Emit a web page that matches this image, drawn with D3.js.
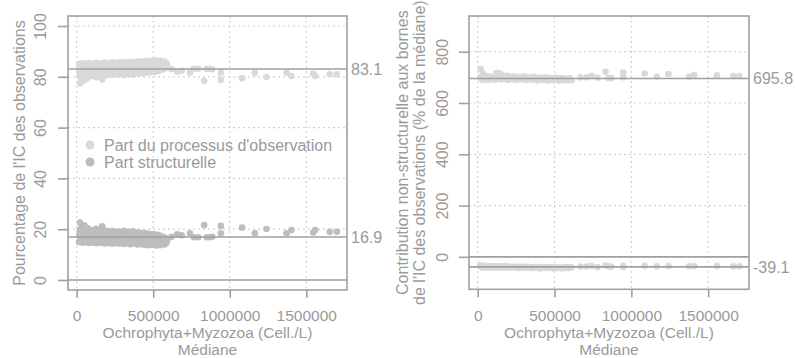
<!DOCTYPE html>
<html><head><meta charset="utf-8">
<script src="https://cdn.jsdelivr.net/npm/d3@7"></script>
<style>html,body{margin:0;padding:0;background:#fff}svg{display:block}text{font-family:"Liberation Sans",Arial,sans-serif;fill:#9a9a9a}</style>
</head><body><svg id="c" width="795" height="358"></svg>
<script>
// Médiane, thousands of Cell./L (left panel)
const medianeK = [
 15,18,20,22,25,28,30,33,35,38, 40,44,47,50,53,56,60,63,66,70,
 73,77,80,84,88,92,95,99,103,107, 111,115,119,123,127,131,135,139,143,147,
 151,155,159,163,167,171,175,179,183,187, 191,195,199,203,207,211,215,219,223,227,
 231,235,239,243,247,251,255,259,263,267, 271,275,279,283,287,291,295,299,303,307,
 311,315,319,323,327,331,335,339,343,347, 351,355,359,363,367,371,375,379,383,387,
 391,395,399,403,407,411,415,419,423,427, 431,435,439,443,447,451,455,459,463,467,
 471,475,479,483,487,491,495,499,503,507, 511,515,519,523,527,531,535,540,545,550,
 555,560,565,570,575,580,587,593,
 620,657,686,740,765,794,833,850,872,885, 942,942,1081,1164,1240,1371,1403,1545,1558,1653,1700];
const partObservation = [
 85.0,82.1,80.3,77.4,84.0,81.5,83.2,79.0,85.3,82.6, 80.8,84.4,81.9,78.5,83.6,85.1,80.9,82.8,84.6,81.3,
 79.6,83.9,85.4,82.2,80.7,84.2,81.6,83.1,85.2,80.4, 82.7,84.8,81.1,83.4,79.8,85.5,82.0,80.6,84.1,81.7,
 83.3,85.3,80.9,82.5,78.9,84.6,81.4,83.7,85.6,80.5, 82.9,84.3,81.2,83.0,85.4,80.8,82.4,84.7,81.6,83.5,
 85.7,80.7,82.2,84.0,81.0,83.6,85.5,81.3,82.8,84.9, 80.9,83.2,85.6,81.8,82.5,84.4,81.1,83.9,85.8,80.6,
 82.7,84.6,81.5,83.3,85.6,81.0,82.4,84.2,81.7,83.8, 85.9,81.2,82.9,84.8,80.8,83.4,85.7,81.9,82.6,84.5,
 81.3,83.6,86.0,81.6,82.8,85.1,81.4,83.7,85.9,81.9, 83.0,84.9,81.5,83.9,86.2,82.1,83.2,85.3,81.7,84.0,
 86.3,82.2,83.5,85.6,81.9,84.3,86.1,82.4,83.8,85.7, 82.0,84.5,86.4,82.6,83.9,85.9,82.3,84.6,86.3,82.8,
 84.2,85.8,83.0,84.9,86.0,83.5,85.3,84.1,
 83.0,82.0,82.4,81.6,83.2,83.2,78.4,83.2,83.2,83.0, 78.7,81.6,79.4,81.6,79.9,81.6,80.3,81.3,80.3,81.0,81.0];
const partStructurelle = [
 15.0,17.9,19.7,22.6,16.0,18.5,16.8,21.0,14.7,17.4, 19.2,15.6,18.1,21.5,16.4,14.9,19.1,17.2,15.4,18.7,
 20.4,16.1,14.6,17.8,19.3,15.8,18.4,16.9,14.8,19.6, 17.3,15.2,18.9,16.6,20.2,14.5,18.0,19.4,15.9,18.3,
 16.7,14.7,19.1,17.5,21.1,15.4,18.6,16.3,14.4,19.5, 17.1,15.7,18.8,17.0,14.6,19.2,17.6,15.3,18.4,16.5,
 14.3,19.3,17.8,16.0,19.0,16.4,14.5,18.7,17.2,15.1, 19.1,16.8,14.4,18.2,17.5,15.6,18.9,16.1,14.2,19.4,
 17.3,15.4,18.5,16.7,14.4,19.0,17.6,15.8,18.3,16.2, 14.1,18.8,17.1,15.2,19.2,16.6,14.3,18.1,17.4,15.5,
 18.7,16.4,14.0,18.4,17.2,14.9,18.6,16.3,14.1,18.1, 17.0,15.1,18.5,16.1,13.8,17.9,16.8,14.7,18.3,16.0,
 13.7,17.8,16.5,14.4,18.1,15.7,13.9,17.6,16.2,14.3, 18.0,15.5,13.6,17.4,16.1,14.1,17.7,15.4,13.7,17.2,
 15.8,14.2,17.0,15.1,14.0,16.5,14.7,15.9,
 17.0,18.0,17.6,18.4,16.8,16.8,21.6,16.8,16.8,17.0, 21.3,18.4,20.6,18.4,20.1,18.4,19.7,18.7,19.7,19.0,19.0];

// Médiane, thousands of Cell./L (right panel)
const medianeK2 = [
 16,20,24,28,32,36,40,45,50,55, 60,65,70,75,80,86,92,98,104,110,
 116,122,128,134,140,146,152,158,164,170, 176,182,188,194,200,208,216,224,232,240,
 248,256,264,272,280,290,300,310,320,330, 340,350,360,370,380,390,400,410,420,430,
 440,450,460,470,480,490,500,510,520,530, 540,550,560,570,580,590,600,612,
 669,708,741,780,832,850,870,947,947,1087, 1165,1242,1376,1410,1557,1664,1703];
const contribSup = [
 700,732,695,705,690,713,698,702,692,700, 697,704,691,699,703,694,700,696,702,690,
 698,718,694,701,697,715,692,699,704,695, 700,693,706,697,691,702,696,699,693,704,
 697,690,701,695,699,692,703,696,690,700, 694,698,691,702,695,688,699,693,697,690,
 700,694,688,698,692,696,689,699,693,687, 697,691,695,688,694,690,696,689,
 700,700,706,698,722,697,697,719,700,715, 702,713,702,709,708,705,705];
const contribInf = [
 -36,-33,-40,-37,-42,-35,-39,-38,-41,-36, -39,-37,-43,-38,-36,-40,-38,-42,-37,-39,
 -41,-36,-39,-38,-43,-37,-40,-38,-41,-39, -37,-42,-39,-40,-38,-43,-39,-41,-40,-38,
 -42,-40,-39,-44,-41,-38,-42,-40,-43,-39, -41,-44,-40,-42,-39,-43,-41,-45,-40,-42,
 -43,-41,-44,-40,-42,-45,-41,-43,-42,-44, -42,-45,-41,-43,-40,-44,-42,-41,
 -38,-38,-36,-40,-34,-37,-39,-35,-40,-35, -37,-36,-37,-36,-36,-37,-37];

const xTicksK = [0, 500, 1000, 1500];
const xTickLabels = ["0", "500000", "1000000", "1500000"];
const yTicksLeft = [0, 20, 40, 60, 80, 100];
const yTicksRight = [0, 200, 400, 600, 800];
const refLeft = [83.1, 16.9];
const refRight = [695.8, -39.1];
const legendLabels = ["Part du processus d'observation", "Part structurelle"];

const svg = d3.select("#c");
const AX = "#a0a0a0", GRID = "#d2d2d2", LIGHT = "#d9d9d9", DARK = "#bdbdbd";

function panel(o) {
  const x = d3.scaleLinear().domain([-56.7, 1766]).range([o.x0, o.x1]);
  const y = d3.scaleLinear().domain(o.yd).range([o.y1, o.y0]);
  const g = svg.append("g");
  // grid
  g.selectAll(".gx").data(xTicksK).join("line")
    .attr("x1", d => x(d)).attr("x2", d => x(d)).attr("y1", o.y0).attr("y2", o.y1)
    .attr("stroke", GRID).attr("stroke-width", 1.2).attr("stroke-dasharray", "2,3");
  g.selectAll(".gy").data(o.yt).join("line")
    .attr("x1", o.x0).attr("x2", o.x1).attr("y1", d => y(d)).attr("y2", d => y(d))
    .attr("stroke", GRID).attr("stroke-width", 1.2).attr("stroke-dasharray", "2,3");
  // points
  o.series.forEach(s => {
    g.append("g").selectAll("circle").data(s.v).join("circle")
      .attr("cx", (d, i) => x(s.x[i])).attr("cy", d => y(d)).attr("r", 3.3)
      .attr("fill", s.c);
  });
  // reference lines
  [0].concat(o.refs).forEach(v => {
    g.append("line").attr("x1", o.x0).attr("x2", o.x1).attr("y1", y(v)).attr("y2", y(v))
      .attr("stroke", AX).attr("stroke-width", 1.6);
  });
  o.refs.forEach(v => {
    g.append("text").attr("x", o.x1 + 4).attr("y", y(v)).attr("dy", "0.36em")
      .attr("font-size", 16).text(v.toFixed(1));
  });
  // box
  g.append("rect").attr("x", o.x0).attr("y", o.y0).attr("width", o.x1 - o.x0).attr("height", o.y1 - o.y0)
    .attr("fill", "none").attr("stroke", AX).attr("stroke-width", 1.6);
  // x axis
  const xa = g.append("g").attr("transform", `translate(0,${o.y1})`)
    .call(d3.axisBottom(x).tickValues(xTicksK).tickSize(8)
      .tickFormat((d, i) => xTickLabels[i]));
  xa.select(".domain").remove();
  xa.selectAll("line").attr("stroke", AX).attr("stroke-width", 1.6);
  xa.selectAll("text").attr("font-size", 15.5).attr("fill", "#9a9a9a").attr("font-family", null)
    .attr("y", 321 - o.y1).attr("dy", null);
  // y axis
  const ya = g.append("g").attr("transform", `translate(${o.x0},0)`)
    .call(d3.axisLeft(y).tickValues(o.yt).tickSize(10).tickFormat(d3.format("d")));
  ya.select(".domain").remove();
  ya.selectAll("line").attr("stroke", AX).attr("stroke-width", 1.6);
  ya.selectAll("text").attr("font-size", 16).attr("fill", "#9a9a9a").attr("font-family", null)
    .attr("x", null).attr("y", null).attr("dy", null).attr("text-anchor", "middle")
    .attr("transform", `translate(${o.tickLabX - o.x0},0) rotate(-90)`);
  // x titles
  const cx = (o.x0 + o.x1) / 2;
  g.append("text").attr("x", cx).attr("y", 338).attr("text-anchor", "middle").attr("font-size", 15.5)
    .text("Ochrophyta+Myzozoa (Cell./L)");
  g.append("text").attr("x", cx).attr("y", 354.5).attr("text-anchor", "middle").attr("font-size", 15.5)
    .text("Médiane");
  // y title
  const cy = (o.y0 + o.y1) / 2;
  o.ytitle.forEach((t, i) => {
    g.append("text").attr("text-anchor", "middle").attr("font-size", 16)
      .attr("transform", `translate(${o.ytitleX[i]},${cy}) rotate(-90)`).text(t);
  });
  return {x, y, g};
}

const L = panel({x0: 68, x1: 347, y0: 16, y1: 290, yd: [-3.94, 103.94], yt: yTicksLeft,
  tickLabX: 46, refs: refLeft, ytitle: ["Pourcentage de l'IC des observations"], ytitleX: [25],
  series: [{x: medianeK, v: partObservation, c: LIGHT}, {x: medianeK, v: partStructurelle, c: DARK}]});

const R = panel({x0: 469, x1: 749, y0: 16, y1: 289.3, yd: [-126.6, 939.3], yt: yTicksRight,
  tickLabX: 447.5, refs: refRight,
  ytitle: ["Contribution non-structurelle aux bornes", "de l'IC des observations (% de la médiane)"],
  ytitleX: [407.5, 425],
  series: [{x: medianeK2, v: contribSup, c: LIGHT}, {x: medianeK2, v: contribInf, c: LIGHT}]});

// legend
const leg = svg.append("g");
legendLabels.forEach((t, i) => {
  const yy = 145 + i * 17;
  leg.append("circle").attr("cx", 90).attr("cy", yy).attr("r", 4.5).attr("fill", i ? DARK : LIGHT);
  leg.append("text").attr("x", 104).attr("y", yy).attr("dy", "0.36em").attr("font-size", 16).text(t);
});
</script></body></html>
